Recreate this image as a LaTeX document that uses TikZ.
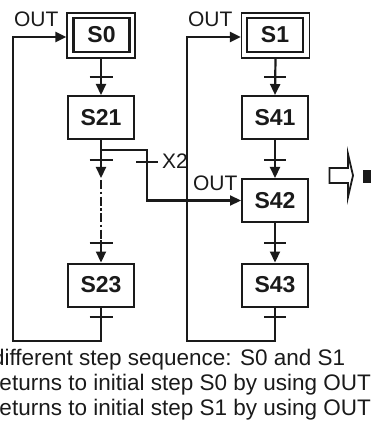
\documentclass[tikz,border=0pt]{standalone}
\usepackage{fontspec}
\setmainfont{Liberation Sans}
\usetikzlibrary{arrows.meta}
\definecolor{ink}{HTML}{1A1A1A}
\begin{document}
\begin{tikzpicture}[x=1pt,y=-1pt, line width=2pt, color=ink,
 stepbox/.style={draw, line width=2pt, minimum width=66pt, minimum height=43pt, inner sep=0pt, font=\bfseries\fontsize{23}{23}\selectfont},
 innerbox/.style={draw, line width=2.6pt, minimum width=56pt, minimum height=34pt, inner sep=0pt, font=\bfseries\fontsize{23}{23}\selectfont},
 outerbox/.style={draw, line width=1.3pt, minimum width=68pt, minimum height=45pt, inner sep=0pt},
 flow/.style={line width=2.2pt},
 arr/.style={-{Triangle[width=10pt,length=11pt]}},
 bar/.style={line width=2pt},
 lbl/.style={anchor=base west, inner sep=0pt, font=\fontsize{21}{21}\selectfont},
 txt/.style={anchor=base west, inner sep=0pt, font=\fontsize{22.5}{25}\selectfont}]
\useasboundingbox (0,0) rectangle (371,438);

% left column
\node[outerbox] (s0o) at (101,35.5) {};
\node[innerbox] (s0) at (101.5,35) {S0};
\node[stepbox] (s21) at (101,117.5) {S21};
\node[stepbox] (s23) at (101,285) {S23};
% right column
\node[outerbox] (s1o) at (275.5,35.5) {};
\node[innerbox] (s1) at (275,35) {S1};
\node[stepbox] (s41) at (275,117.5) {S41};
\node[stepbox] (s42) at (275,200.5) {S42};
\node[stepbox] (s43) at (275,285) {S43};

% coordinates
\coordinate (br) at (101,150);
\coordinate (bc1) at (147,150);
\coordinate (bc2) at (147,200.5);
\coordinate (la) at (101,178);
\coordinate (ld1) at (101,180);
\coordinate (ld2) at (101,240);
\coordinate (lb1) at (101,341);
\coordinate (lb2) at (13,341);
\coordinate (lb3) at (13,37);
\coordinate (rb1) at (275,341);
\coordinate (rb2) at (187,341);
\coordinate (rb3) at (187,37);

% left flow
\draw[flow,arr] (s0o.south) -- (s21.north);
\draw[flow] (s21.south) -- (br);
\draw[flow,arr] (br) -- (la);
\draw[flow, dash pattern=on 9pt off 2.5pt on 2.5pt off 2.5pt] (ld1) -- (ld2);
\draw[flow,arr] (ld2) -- (s23.north);
\draw[flow,arr] (s23.south) -- (lb1) -- (lb2) -- (lb3) -- (lb3 -| s0o.west);
% branch
\draw[flow,arr] (br) -- (bc1) -- (bc2) -- (s42.west);
% right flow
\draw[flow,arr] (s1o.south) -- (s41.north);
\draw[flow,arr] (s41.south) -- (s42.north);
\draw[flow,arr] (s42.south) -- (s43.north);
\draw[flow,arr] (s43.south) -- (rb1) -- (rb2) -- (rb3) -- (rb3 -| s1o.west);

% transition bars
\foreach \y in {77,160,243,317} {
  \draw[bar] (89.5,\y) -- (112.5,\y);
  \draw[bar] (264,\y) -- (286,\y);
}
\draw[bar] (136,162) -- (158,162);

% labels
\node[lbl] (out1) at (13,27) {OUT};
\node[lbl] (out2) at (187,27) {OUT};
\node[lbl] (out3) at (192,190) {OUT};
\node[lbl] (x2) at (161,168) {X2};

% hollow arrow and bar at right
\draw[line width=1.8pt, line join=miter] (329.5,168) -- (348,168) -- (348,154) -- (353,175.5) -- (348,197) -- (348,183) -- (329.5,183) -- cycle;
\fill (363,170) rectangle (372,183);

% bottom text
\node[txt] (t1) at (-9,365) {different step sequence: S0 and S1};
\node[txt] (t2) at (-9,390) {returns to initial step S0 by using OUT};
\node[txt] (t3) at (-9,415) {returns to initial step S1 by using OUT};
\end{tikzpicture}
\end{document}
